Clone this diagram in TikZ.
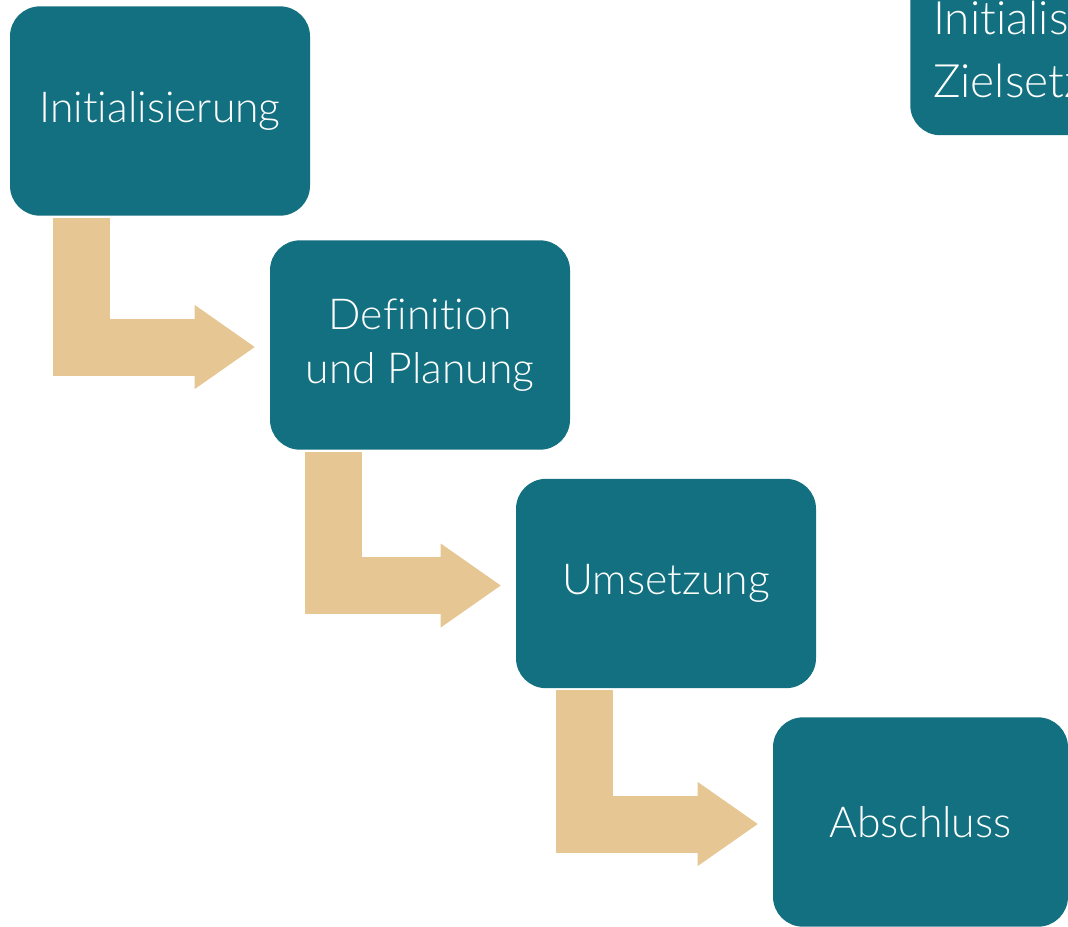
\documentclass[tikz,border=0pt]{standalone}
\usepackage{fontspec}
\setmainfont{Lato}[UprightFont=* Light,Ligatures=CommonOff]
\usetikzlibrary{positioning,calc,arrows.meta}
\definecolor{boxteal}{RGB}{18,112,128}
\definecolor{sand}{RGB}{230,199,148}

\begin{document}
\begin{tikzpicture}[x=0.75pt,y=-0.75pt,
    % define styles
    phase/.style={
        fill=boxteal,
        rounded corners=22.5pt,
        minimum width=225pt,
        minimum height=157pt,
        inner sep=0pt,
        align=center,
        text=white,
        font=\fontsize{32}{40.5}\selectfont
    },
    flow/.style={
        draw=sand,
        line width=42.75pt,
        shorten >=11.25pt,
        -{Triangle[length=45pt,width=63pt,line width=0pt]}
    }
  ]
  \useasboundingbox (0,0) rectangle (1068,926);
  \clip (0,0) rectangle (1068,926);
  % phases
  \node[phase] (init) at (160,111) {Initialisierung};
  \node[phase] (plan) at (420,345) {Definition\\und Planung};
  \node[phase] (exec) at (666,583.5) {Umsetzung};
  \node[phase,minimum width=221.25pt] (close) at (920.5,822) {Abschluss};
  % box cut off at the top right
  \node[phase,anchor=base west,minimum width=0pt,minimum height=0pt,
        align=left,text width=265pt,
        inner xsep=17.25pt,inner ysep=22pt,
        font=\fontsize{34.5}{47.5}\selectfont] (goal) at (910,34)
        {Initialisierung\\Zielsetzung};
  % bent arrows between the phases
  \draw[flow] ($(init.south west)+(71.5,2)$) |- ([yshift=-1.5pt]plan.west);
  \draw[flow] ($(plan.south west)+(63.5,2)$) |- ([yshift=-1.5pt]exec.west);
  \draw[flow] ($(exec.south west)+(68.5,2)$) |- ([yshift=-1.5pt]close.west);
\end{tikzpicture}
\end{document}
